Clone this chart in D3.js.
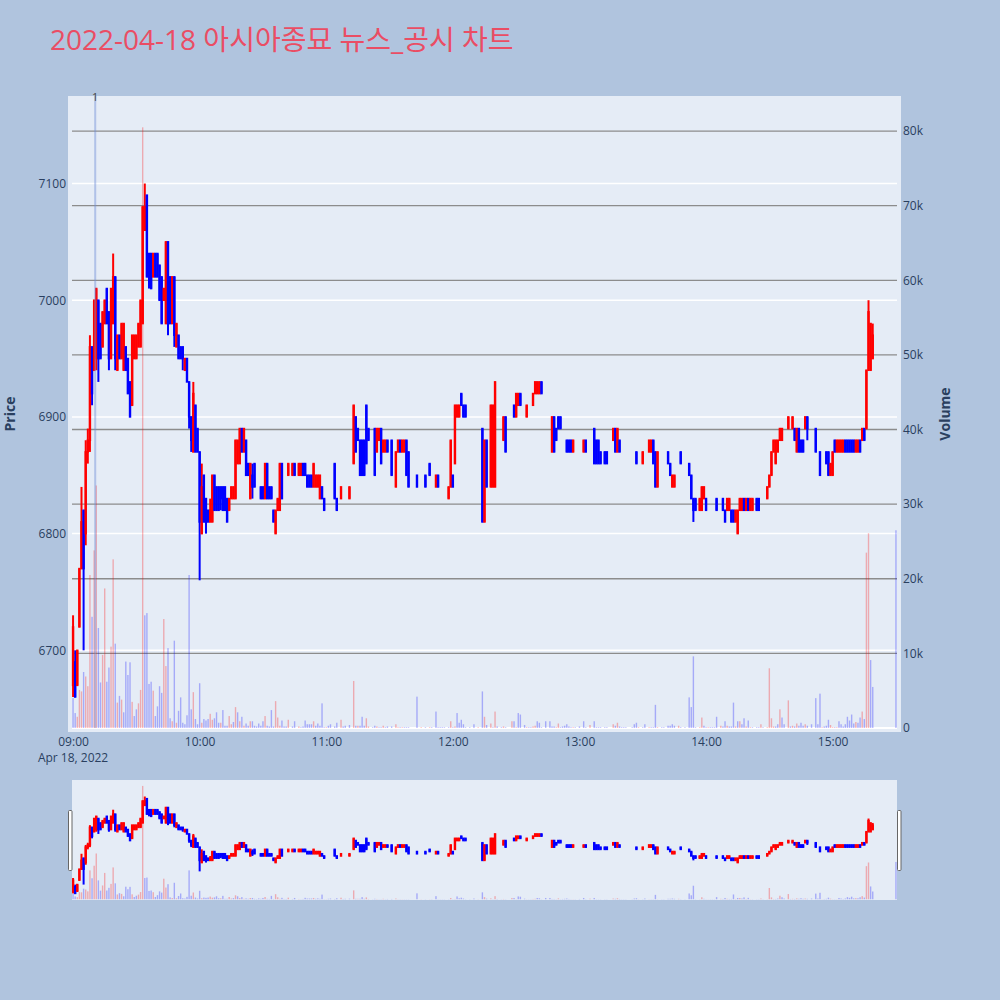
<!DOCTYPE html>
<html><head><meta charset="utf-8">
<script src="https://cdn.jsdelivr.net/npm/d3@7"></script>
<style>body{margin:0;background:#B0C4DE;}svg{display:block;}</style>
</head><body><svg id="c" width="1000" height="1000"></svg>
<script>
const title = "2022-04-18 아시아종묘 뉴스_공시 차트";
const dateLabel = "Apr 18, 2022";
const times = [
"09:00","09:01","09:02","09:03","09:04","09:05","09:06","09:07","09:08","09:09","09:10","09:11","09:12","09:13","09:14","09:15","09:16","09:17","09:18","09:19",
"09:20","09:21","09:22","09:23","09:24","09:25","09:26","09:27","09:28","09:29","09:30","09:31","09:32","09:33","09:34","09:35","09:36","09:37","09:38","09:39",
"09:40","09:41","09:42","09:43","09:44","09:45","09:46","09:47","09:48","09:49","09:50","09:51","09:52","09:53","09:54","09:55","09:56","09:57","09:58","09:59",
"10:00","10:01","10:02","10:03","10:04","10:05","10:06","10:07","10:08","10:09","10:10","10:11","10:12","10:13","10:14","10:15","10:16","10:17","10:18","10:19",
"10:20","10:21","10:22","10:23","10:24","10:25","10:26","10:27","10:28","10:29","10:30","10:31","10:32","10:33","10:34","10:35","10:36","10:37","10:38","10:39",
"10:40","10:41","10:42","10:44","10:45","10:47","10:48","10:49","10:50","10:51","10:52","10:53","10:54","10:55","10:56","10:57","10:58","10:59",
"11:00","11:01","11:02","11:04","11:05","11:07","11:08","11:09","11:11","11:13","11:14","11:15","11:16","11:17","11:18","11:19","11:20","11:22","11:23","11:24",
"11:25","11:26","11:27","11:28","11:29","11:31","11:33","11:34","11:35","11:36","11:37","11:38","11:39","11:43","11:45","11:47","11:49","11:50","11:52","11:53",
"11:54","11:55","11:56","11:58","11:59",
"12:00","12:01","12:02","12:03","12:04","12:05","12:06","12:08","12:10","12:12","12:14","12:15","12:16","12:18","12:19","12:20","12:21","12:23","12:24","12:25",
"12:28","12:29","12:30","12:31","12:32","12:34","12:35","12:36","12:37","12:38","12:39","12:40","12:41","12:42","12:44","12:46","12:47","12:48","12:49","12:50",
"12:51","12:52","12:53","12:54","12:55","12:56","12:57","12:58",
"13:00","13:02","13:03","13:05","13:07","13:08","13:09","13:10","13:12","13:13","13:16","13:17","13:18","13:19","13:20","13:21","13:22","13:25","13:26","13:27",
"13:28","13:30","13:31","13:33","13:34","13:35","13:36","13:37","13:39","13:40","13:42","13:43","13:44","13:45","13:47","13:48","13:50","13:52","13:53","13:54",
"13:55","13:57","13:58","13:59",
"14:00","14:01","14:02","14:03","14:04","14:05","14:07","14:08","14:09","14:10","14:11","14:12","14:13","14:14","14:15","14:16","14:17","14:18","14:19","14:20",
"14:21","14:22","14:24","14:25","14:26","14:27","14:29","14:30","14:31","14:32","14:33","14:34","14:35","14:36","14:37","14:39","14:40","14:41","14:42","14:43",
"14:44","14:45","14:46","14:47","14:48","14:50","14:52","14:53","14:54","14:55","14:56","14:57","14:58","14:59",
"15:00","15:01","15:02","15:03","15:04","15:05","15:06","15:07","15:08","15:09","15:10","15:11","15:12","15:13","15:14","15:15","15:16","15:17","15:18","15:19",
"15:30"];
const open = [
6670,6690,6670,6720,6770,6820,6800,6870,6880,6960,6940,6950,7000,6980,6960,6980,7010,6990,6950,6980,
7020,6940,6970,6950,6940,6960,6950,6930,6910,6950,6950,6960,6960,6980,7060,7090,7040,7040,7020,7040,
7040,7030,7020,7000,6980,7050,7020,6980,7020,6960,6970,6960,6960,6940,6950,6930,6900,6870,6910,6890,
6870,6800,6850,6830,6820,6810,6810,6850,6840,6840,6840,6840,6840,6830,6820,6830,6830,6830,6860,6860,
6890,6870,6880,6860,6830,6850,6860,6840,6840,6840,6840,6830,6860,6840,6840,6820,6800,6820,6820,6860,
6830,6830,6850,6850,6860,6850,6850,6860,6860,6850,6850,6850,6840,6840,6840,6830,6840,6830,
6830,6830,6830,6860,6830,6830,6840,6840,6830,6860,6900,6890,6880,6880,6880,6910,6890,6880,6890,6870,
6880,6890,6870,6870,6880,6880,6840,6870,6880,6870,6870,6880,6870,6850,6860,6850,6860,6850,6840,6850,
6840,6840,6840,6830,6840,
6850,6860,6900,6900,6920,6910,6910,6900,6890,6900,6890,6810,6880,6840,6840,6840,6910,6880,6880,6900,
6900,6910,6900,6910,6920,6900,6900,6910,6910,6910,6920,6920,6920,6930,6920,6910,6870,6900,6890,6900,
6900,6890,6890,6880,6880,6880,6870,6880,
6880,6870,6880,6880,6890,6880,6880,6870,6870,6870,6880,6890,6870,6880,6870,6870,6870,6870,6870,6870,
6870,6860,6870,6870,6870,6880,6870,6840,6870,6870,6870,6860,6840,6840,6860,6870,6860,6860,6850,6830,
6830,6820,6820,6830,
6830,6830,6830,6830,6830,6830,6830,6830,6820,6820,6820,6820,6820,6810,6800,6820,6820,6830,6820,6830,
6820,6820,6830,6830,6830,6830,6830,6840,6850,6870,6860,6870,6880,6880,6890,6890,6890,6890,6890,6870,
6890,6880,6880,6890,6900,6890,6890,6870,6870,6870,6870,6870,6870,6850,
6850,6880,6870,6870,6870,6870,6880,6880,6880,6880,6880,6870,6870,6880,6880,6890,6890,6940,6940,6950,
6970];
const high = [
6730,6700,6700,6770,6840,6820,6880,6890,6970,6960,7000,7010,7000,6980,6990,7000,7010,6990,7010,7040,
7020,6970,6970,6980,6980,6960,6950,6930,6970,6970,6970,6980,7000,7080,7100,7090,7040,7040,7040,7040,
7040,7030,7020,7010,7050,7050,7020,7020,7020,6980,6970,6960,6960,6950,6950,6930,6900,6930,6910,6890,
6870,6860,6850,6830,6820,6830,6850,6850,6840,6840,6840,6840,6840,6830,6830,6840,6840,6880,6880,6890,
6890,6890,6880,6860,6860,6860,6860,6840,6840,6840,6840,6860,6860,6840,6840,6820,6820,6830,6860,6860,
6830,6830,6860,6860,6860,6860,6860,6860,6860,6850,6850,6850,6860,6850,6850,6850,6840,6830,
6830,6830,6830,6860,6830,6840,6840,6840,6840,6910,6900,6890,6880,6880,6880,6910,6890,6880,6890,6890,
6890,6890,6880,6880,6880,6880,6870,6880,6880,6880,6880,6880,6870,6850,6860,6850,6860,6850,6850,6850,
6840,6840,6840,6840,6880,
6850,6910,6910,6910,6920,6910,6910,6900,6890,6900,6890,6880,6880,6910,6910,6930,6910,6880,6900,6900,
6900,6910,6920,6920,6920,6900,6910,6910,6910,6920,6930,6930,6930,6930,6920,6910,6900,6900,6890,6900,
6900,6890,6890,6880,6880,6880,6880,6880,
6880,6880,6880,6880,6890,6880,6880,6870,6870,6870,6890,6890,6890,6880,6870,6870,6870,6870,6870,6870,
6870,6870,6870,6880,6880,6880,6870,6870,6870,6870,6870,6860,6850,6850,6860,6870,6860,6860,6850,6830,
6830,6830,6840,6840,
6830,6830,6830,6830,6830,6830,6830,6830,6820,6830,6830,6820,6820,6820,6820,6830,6830,6830,6830,6830,
6830,6830,6830,6830,6830,6830,6840,6850,6870,6880,6880,6880,6890,6890,6890,6900,6890,6900,6890,6890,
6890,6880,6880,6900,6900,6890,6890,6870,6870,6870,6870,6870,6870,6860,
6870,6880,6880,6880,6880,6880,6880,6880,6880,6880,6880,6880,6880,6880,6890,6890,6940,7000,6980,6980,
6970];
const low = [
6660,6660,6670,6720,6770,6700,6790,6860,6870,6910,6940,6940,6930,6950,6960,6980,6980,6940,6950,6980,
6940,6940,6950,6950,6940,6940,6920,6900,6910,6950,6950,6960,6960,6980,7060,7020,7010,7010,7020,7020,
7020,7000,6980,7000,6980,6970,6980,6980,6960,6960,6950,6950,6940,6940,6930,6890,6870,6870,6870,6870,
6760,6800,6810,6800,6810,6810,6810,6820,6820,6820,6820,6820,6820,6810,6820,6830,6830,6830,6860,6860,
6870,6870,6850,6850,6830,6830,6840,6840,6840,6830,6830,6830,6830,6830,6830,6810,6800,6820,6820,6830,
6830,6830,6850,6850,6850,6850,6850,6850,6850,6840,6840,6840,6840,6840,6840,6830,6830,6820,
6830,6830,6830,6830,6820,6830,6840,6840,6830,6860,6870,6880,6850,6850,6850,6860,6880,6880,6850,6870,
6880,6860,6870,6870,6870,6850,6840,6870,6870,6870,6870,6850,6840,6840,6860,6840,6850,6850,6840,6840,
6840,6840,6840,6830,6840,
6840,6860,6900,6900,6910,6900,6900,6900,6890,6900,6810,6810,6840,6840,6840,6840,6910,6880,6880,6870,
6900,6900,6900,6910,6910,6900,6900,6910,6910,6910,6920,6920,6920,6920,6920,6910,6870,6870,6880,6890,
6890,6890,6890,6870,6870,6870,6870,6880,
6880,6870,6870,6880,6860,6860,6860,6860,6860,6860,6880,6870,6870,6870,6870,6870,6870,6870,6870,6860,
6870,6860,6870,6870,6870,6860,6840,6840,6870,6870,6860,6850,6840,6840,6860,6860,6860,6850,6830,6810,
6820,6820,6820,6830,
6820,6830,6830,6830,6830,6820,6830,6820,6810,6820,6820,6810,6810,6810,6800,6820,6820,6820,6820,6820,
6820,6820,6820,6820,6830,6830,6830,6840,6850,6870,6860,6870,6880,6880,6890,6890,6890,6890,6880,6870,
6870,6870,6870,6890,6880,6890,6870,6870,6850,6870,6870,6860,6850,6850,
6850,6870,6870,6870,6870,6870,6870,6870,6870,6870,6870,6870,6870,6870,6880,6880,6890,6940,6940,6950,
6970];
const close = [
6720,6660,6700,6770,6810,6770,6870,6880,6960,6920,7000,7010,6950,6950,6990,7000,6980,6950,7010,7020,
6950,6970,6950,6980,6980,6940,6920,6900,6970,6970,6970,6980,7000,7080,7080,7020,7020,7010,7040,7020,
7020,7000,6980,7010,7050,6980,6980,7020,6970,6980,6950,6950,6950,6950,6930,6900,6880,6920,6870,6870,
6810,6840,6810,6810,6810,6820,6850,6820,6820,6820,6830,6820,6820,6810,6830,6840,6840,6880,6880,6890,
6870,6890,6850,6850,6860,6840,6840,6840,6840,6830,6830,6860,6830,6830,6830,6810,6820,6830,6860,6830,
6830,6830,6860,6860,6850,6860,6860,6850,6850,6840,6840,6840,6860,6850,6850,6850,6830,6820,
6830,6830,6830,6830,6820,6840,6840,6840,6840,6910,6870,6880,6850,6850,6850,6860,6880,6880,6850,6890,
6890,6860,6880,6880,6870,6850,6870,6880,6870,6880,6880,6850,6840,6840,6860,6840,6850,6850,6850,6840,
6840,6840,6840,6840,6880,
6840,6910,6910,6910,6910,6900,6900,6900,6890,6900,6810,6880,6840,6910,6910,6930,6910,6880,6900,6870,
6900,6900,6920,6920,6910,6900,6910,6910,6910,6920,6930,6930,6930,6920,6920,6910,6900,6870,6880,6890,
6890,6890,6890,6870,6870,6870,6880,6880,
6880,6880,6870,6880,6860,6860,6860,6860,6860,6860,6890,6870,6890,6870,6870,6870,6870,6870,6870,6860,
6870,6870,6870,6880,6880,6860,6840,6870,6870,6870,6860,6850,6850,6850,6860,6860,6860,6850,6830,6820,
6820,6830,6840,6840,
6820,6830,6830,6830,6830,6820,6830,6820,6810,6830,6830,6810,6810,6820,6820,6830,6830,6820,6830,6820,
6830,6830,6820,6820,6830,6830,6840,6850,6870,6880,6880,6880,6890,6890,6890,6900,6890,6900,6880,6890,
6870,6870,6870,6900,6890,6890,6870,6870,6850,6870,6870,6860,6850,6860,
6870,6870,6880,6880,6880,6880,6870,6870,6870,6870,6870,6880,6880,6870,6890,6880,6940,6990,6980,6970,
6970];
const volume = [
4000,2000,1500,5100,4900,7500,6900,5600,20500,14900,23800,32500,13400,6100,9800,18700,6200,8100,10900,22600,
11300,3400,4300,3800,2100,8900,7100,8800,3500,1600,2500,3300,5100,80500,15100,15400,5900,6200,5000,1600,
2900,5600,4700,14600,8300,10700,1300,900,11700,700,2300,4100,700,500,1700,20500,2500,4800,1200,500,
6000,700,1200,1000,1200,1900,1100,1300,2100,700,700,2400,300,300,1600,500,800,2800,2100,900,
1500,300,600,300,900,900,300,200,600,300,900,1600,300,200,2400,200,3600,1400,300,1000,
200,200,1100,200,900,200,100,200,1000,500,500,500,900,300,600,300,3300,100,
100,300,500,200,700,1100,200,300,400,6300,300,300,300,1500,300,1300,200,100,300,200,
100,100,300,100,200,200,500,100,100,100,100,100,100,4200,100,100,100,100,2200,100,
100,100,100,100,900,
100,200,2000,700,1100,500,100,100,500,100,4900,1500,400,600,100,2200,200,100,200,100,
900,900,100,2000,1800,400,100,100,100,200,300,900,700,100,900,900,200,200,100,600,
100,200,300,500,200,100,100,100,
200,900,100,400,900,100,100,100,100,100,500,300,700,200,100,100,100,100,500,700,
100,100,500,100,100,100,3100,100,100,100,300,300,500,300,300,100,100,4100,2800,9600,
100,100,1400,300,
100,100,100,100,100,1500,300,200,900,300,200,200,3400,200,900,900,500,1300,200,1000,
100,100,100,100,500,100,100,8000,1300,200,200,500,2500,1400,500,3700,200,300,200,600,
300,700,300,500,300,500,4000,500,4600,100,200,300,1100,400,
100,100,100,900,500,200,500,1500,1000,1800,600,800,700,1400,2200,1200,23500,26100,9100,5500,
26500];
const priceTicks = [6700, 6800, 6900, 7000, 7100];
const volumeTicks = [0, 10000, 20000, 30000, 40000, 50000, 60000, 70000, 80000];
const hourTicks = ["09:00","10:00","11:00","12:00","13:00","14:00","15:00"];
const newsTimes = ["09:10:30"];
const newsLabels = ["1"];

const UP = "#ff0000", DOWN = "#0000ff";
const FONT = "'Open Sans','Noto Sans CJK KR',sans-serif";
const AXC = "#2a3f5f";
const svg = d3.select("#c");
const parse = d3.timeParse("%Y-%m-%d %H:%M:%S");
const toDate = t => parse("2022-04-18 " + (t.length === 5 ? t + ":00" : t));

const rows = times.map((t, i) => ({t: toDate(t), o: open[i], h: high[i], l: low[i], c: close[i], v: volume[i]}));
let prevC = null, inc = false;
rows.forEach(r => {
  if (r.c === r.o) { if (prevC !== null && r.c !== prevC) inc = r.c > prevC; }
  else inc = r.c > r.o;
  r.up = inc;
  r.vup = prevC !== null && r.c > prevC;
  prevC = r.c;
});

const x = d3.scaleTime().domain([toDate("08:59:30"), toDate("15:30:30")]).range([72, 897]);
const yP = d3.scaleLinear().domain([6630, 7175]).range([732, 96]);
const yV = d3.scaleLinear().domain([-540, 84700]).range([732, 96]);
const yPs = d3.scaleLinear().domain([6630, 7175]).range([900, 780]);
const yVs = d3.scaleLinear().domain([-540, 84700]).range([900, 780]);

svg.append("text").attr("x", 50).attr("y", 50).attr("font-family", FONT).attr("font-size", 28)
  .attr("fill", "#ea4d64").text(title);

svg.append("rect").attr("x", 68).attr("y", 96).attr("width", 833).attr("height", 636).attr("fill", "#E5ECF6");

const grid = svg.append("g");
priceTicks.forEach(p => grid.append("line").attr("x1", 72).attr("x2", 897).attr("y1", yP(p)).attr("y2", yP(p))
  .attr("stroke", "#ffffff").attr("stroke-width", 1.5));
volumeTicks.slice(1).forEach(v => grid.append("line").attr("x1", 72).attr("x2", 897).attr("y1", yV(v)).attr("y2", yV(v))
  .attr("stroke", "#8c8c8c").attr("stroke-width", 1.3));
grid.append("line").attr("x1", 72).attr("x2", 897).attr("y1", yV(0)).attr("y2", yV(0)).attr("stroke", "#fff").attr("stroke-width", 2);

function drawSeries(g, yp, yv) {
  g.append("g").selectAll("rect").data(rows).join("rect")
    .attr("x", d => x(d.t) - 0.7).attr("width", 1.4)
    .attr("y", d => yv(d.v)).attr("height", d => yv(0) - yv(d.v))
    .attr("fill", d => d.vup ? UP : DOWN).attr("fill-opacity", 0.28);
  const cg = g.append("g");
  cg.selectAll("line").data(rows).join("line")
    .attr("x1", d => x(d.t)).attr("x2", d => x(d.t))
    .attr("y1", d => yp(d.h)).attr("y2", d => yp(d.l))
    .attr("stroke", d => d.up ? UP : DOWN).attr("stroke-width", 2);
  cg.selectAll("rect").data(rows).join("rect")
    .attr("x", d => x(d.t) - 0.4).attr("width", 0.8)
    .attr("y", d => Math.min(yp(d.o), yp(d.c))).attr("height", d => Math.abs(yp(d.o) - yp(d.c)))
    .attr("fill", d => d.up ? UP : DOWN).attr("stroke", d => d.up ? UP : DOWN).attr("stroke-width", 1.6);
}
svg.append("clipPath").attr("id", "cm").append("rect").attr("x", 68).attr("y", 96).attr("width", 833).attr("height", 636);
drawSeries(svg.append("g").attr("clip-path", "url(#cm)"), yP, yV);

newsTimes.forEach((t, i) => {
  const nx = x(toDate(t));
  svg.append("line").attr("x1", nx).attr("x2", nx).attr("y1", 96).attr("y2", 728)
    .attr("stroke", "#6f8fd8").attr("stroke-opacity", 0.45).attr("stroke-width", 2);
  svg.append("text").attr("x", nx).attr("y", 101).attr("text-anchor", "middle").attr("font-family", FONT)
    .attr("font-size", 11).attr("fill", "#444").text(newsLabels[i]);
});

const ax = svg.append("g").attr("font-family", FONT);
const axL = d3.axisLeft(yP).tickValues(priceTicks).tickSize(0).tickPadding(2).tickFormat(d3.format("d"));
ax.append("g").attr("transform", "translate(68,0)").call(axL);
const axR = d3.axisRight(yV).tickValues(volumeTicks).tickSize(0).tickPadding(2)
  .tickFormat(d => d === 0 ? "0" : (d / 1000) + "k");
ax.append("g").attr("transform", "translate(901,0)").call(axR);
const axB = d3.axisBottom(x).tickValues(hourTicks.map(toDate)).tickSize(0).tickPadding(5)
  .tickFormat(d3.timeFormat("%H:%M"));
ax.append("g").attr("transform", "translate(0,732)").call(axB);
ax.selectAll(".domain").remove();
ax.selectAll("text").attr("font-size", 12).attr("fill", AXC).attr("font-family", FONT);
svg.append("text").attr("x", x(toDate("09:00"))).attr("y", 762).attr("text-anchor", "middle")
  .attr("font-family", FONT).attr("font-size", 12).attr("fill", AXC).text(dateLabel);

svg.append("text").attr("transform", "translate(15,414) rotate(-90)").attr("text-anchor", "middle")
  .attr("font-family", FONT).attr("font-size", 14).attr("font-weight", "bold").attr("fill", AXC).text("Price");
svg.append("text").attr("transform", "translate(950,414) rotate(-90)").attr("text-anchor", "middle")
  .attr("font-family", FONT).attr("font-size", 14).attr("font-weight", "bold").attr("fill", AXC).text("Volume");

svg.append("rect").attr("x", 72).attr("y", 780).attr("width", 825).attr("height", 120).attr("fill", "#E5ECF6");
svg.append("clipPath").attr("id", "cs").append("rect").attr("x", 72).attr("y", 780).attr("width", 825).attr("height", 120);
drawSeries(svg.append("g").attr("clip-path", "url(#cs)"), yPs, yVs);
[[68, 810], [897, 810]].forEach(([hx, hy]) => {
  svg.append("rect").attr("x", hx + 0.5).attr("y", hy + 0.5).attr("width", 3.5).attr("height", 60)
    .attr("rx", 1).attr("fill", "#fff").attr("stroke", "#666").attr("stroke-width", 1);
});
</script></body></html>
